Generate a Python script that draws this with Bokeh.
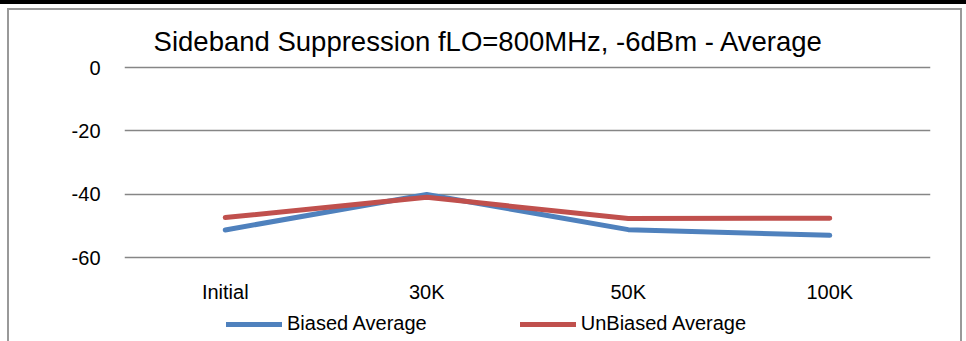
from bokeh.plotting import figure
from bokeh.models import (FactorRange, Range1d, FixedTicker, Legend, LegendItem,
                          Label, ColumnDataSource)
from bokeh.embed import file_html
from bokeh.resources import INLINE

categories = ["Initial", "30K", "50K", "100K"]
biased = [-51.3, -40.1, -51.2, -53.0]
unbiased = [-47.4, -41.0, -47.7, -47.6]
y_ticks = [-60, -40, -20, 0]
title_text = "Sideband Suppression fLO=800MHz, -6dBm - Average"
series_names = ["Biased Average", "UnBiased Average"]

FONT = "Liberation Sans"
BLUE = "#4F81BD"
RED = "#C0504D"

page_bg = ("linear-gradient(#000,#000) 0 0 / 100% 4px no-repeat, "
           "linear-gradient(#999,#999) 7px 8px / 2px 400px no-repeat, "
           "linear-gradient(#999,#999) 7px 8px / 955px 2px no-repeat, "
           "linear-gradient(#999,#999) 960px 8px / 2px 400px no-repeat, white")

# frame covers the whole window height; the value axis is scaled so that
# 0 sits at 67px and -60 at 257px from the top
p = figure(frame_width=806, frame_height=341, output_backend="svg", toolbar_location=None,
           x_range=FactorRange(factors=categories, range_padding=0),
           y_range=Range1d(-86.526, 21.158),
           min_border_left=124, min_border_right=36,
           min_border_top=0, min_border_bottom=0,
           styles={"background": page_bg})
p.outline_line_color = None
p.background_fill_alpha = 0
p.border_fill_alpha = 0

src = ColumnDataSource(dict(x=categories, b=biased, u=unbiased))
r1 = p.line("x", "b", source=src, line_color=BLUE, line_width=5,
            line_cap="round", line_join="round")
r2 = p.line("x", "u", source=src, line_color=RED, line_width=5,
            line_cap="round", line_join="round")

p.xgrid.grid_line_color = None
p.ygrid.grid_line_color = "#868686"
p.ygrid.grid_line_width = 1.5
p.yaxis.ticker = FixedTicker(ticks=y_ticks)
p.yaxis.major_label_overrides = {t: str(t) for t in y_ticks}
p.xaxis.fixed_location = y_ticks[0]

for ax in (p.xaxis[0], p.yaxis[0]):
    ax.axis_line_color = None
    ax.major_tick_line_color = None
    ax.minor_tick_line_color = None
    ax.major_label_text_font = FONT
    ax.major_label_text_font_size = "20px"
    ax.major_label_text_color = "black"
p.yaxis.major_label_standoff = 18
p.xaxis.major_label_standoff = 17

legend = Legend(items=[LegendItem(label=series_names[0], renderers=[r1]),
                       LegendItem(label=series_names[1], renderers=[r2])],
                orientation="horizontal", location=(102, 6),
                glyph_width=56, glyph_height=20, label_standoff=5, spacing=93,
                padding=0, margin=0, border_line_color=None,
                background_fill_alpha=0,
                label_text_font=FONT, label_text_font_size="20px",
                label_text_color="black")
p.add_layout(legend, "center")

title = Label(x=364, y=300, x_units="screen", y_units="screen", text=title_text,
              text_font=FONT, text_font_size="27.5px", text_align="center",
              text_baseline="alphabetic", text_color="black")
p.add_layout(title)

open("out.html", "w").write(file_html(p, INLINE))
